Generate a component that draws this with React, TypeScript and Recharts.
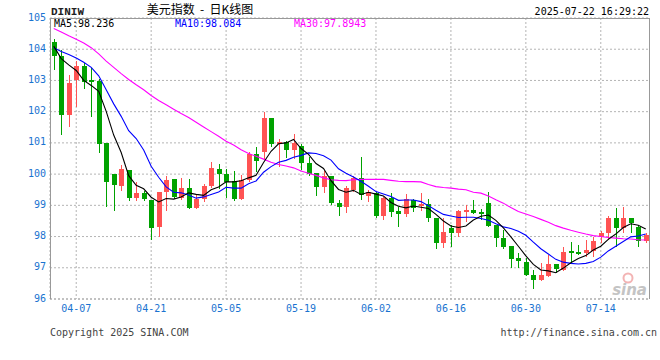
import { Bar, CartesianGrid, ComposedChart, Line, XAxis, YAxis } from 'recharts';

const dates = [
  '04-02', '04-03', '04-04', '04-07', '04-08', '04-09', '04-10', '04-11', '04-14', '04-15',
  '04-16', '04-17', '04-18', '04-21', '04-22', '04-23', '04-24', '04-25', '04-28', '04-29',
  '04-30', '05-01', '05-02', '05-05', '05-06', '05-07', '05-08', '05-09', '05-12', '05-13',
  '05-14', '05-15', '05-16', '05-19', '05-20', '05-21', '05-22', '05-23', '05-26', '05-27',
  '05-28', '05-29', '05-30', '06-02', '06-03', '06-04', '06-05', '06-06', '06-09', '06-10',
  '06-11', '06-12', '06-13', '06-16', '06-17', '06-18', '06-19', '06-20', '06-23', '06-24',
  '06-25', '06-26', '06-27', '06-30', '07-01', '07-02', '07-03', '07-04', '07-07', '07-08',
  '07-09', '07-10', '07-11', '07-14', '07-15', '07-16', '07-17', '07-18', '07-21', '07-22',
];

const opens = [
  104.23, 103.79, 101.9, 103.02, 103.47, 103.0, 102.99, 100.99, 100.01, 99.63,
  100.14, 99.23, 99.4, 99.18, 98.31, 99.42, 99.83, 99.25, 99.57, 98.93,
  99.19, 99.62, 100.15, 100.0, 99.77, 99.21, 99.81, 100.64, 100.72, 101.8,
  100.95, 101.04, 100.77, 100.9, 100.36, 100.04, 99.59, 99.94, 99.06, 98.95,
  99.5, 99.88, 99.31, 99.38, 98.65, 99.24, 98.81, 98.71, 99.17, 98.97,
  99.04, 98.61, 97.8, 98.28, 98.1, 98.79, 98.85, 98.79, 99.08, 98.37,
  97.96, 97.69, 97.32, 97.19, 96.76, 96.6, 96.74, 97.11, 96.92, 97.53,
  97.51, 97.46, 97.53, 97.97, 98.1, 98.6, 98.28, 98.6, 98.31, 97.87,
];
const highs = [
  104.33, 103.99, 103.16, 103.63, 103.55, 103.4, 103.04, 100.99, 100.01, 100.3,
  100.14, 99.74, 99.47, 99.18, 99.44, 99.94, 99.83, 99.87, 99.83, 99.36,
  99.68, 100.38, 100.32, 100.15, 100.1, 99.96, 100.72, 100.86, 101.99, 101.8,
  101.14, 101.07, 101.29, 100.95, 100.56, 100.04, 100.11, 99.94, 99.17, 99.62,
  99.95, 100.56, 99.49, 99.43, 99.26, 99.4, 98.95, 99.36, 99.2, 99.4,
  99.2, 98.61, 98.58, 98.36, 98.85, 99.01, 99.17, 98.87, 99.43, 98.37,
  98.2, 97.69, 97.48, 97.3, 96.92, 97.14, 97.4, 97.11, 97.65, 97.81,
  97.72, 97.9, 97.97, 98.17, 98.65, 98.9, 98.95, 98.6, 98.36, 98.11,
];
const lows = [
  103.34, 101.26, 101.52, 102.14, 102.74, 101.82, 100.67, 98.96, 98.82, 99.47,
  99.15, 99.15, 99.15, 97.89, 97.97, 98.82, 99.19, 99.17, 98.87, 98.89,
  99.12, 99.57, 99.51, 99.25, 99.15, 99.17, 99.75, 100.07, 100.5, 100.88,
  100.24, 100.53, 100.5, 100.13, 99.94, 99.3, 99.38, 99.0, 98.65, 98.76,
  99.44, 99.17, 99.11, 98.58, 98.52, 98.63, 98.31, 98.63, 98.79, 98.81,
  98.47, 97.59, 97.62, 97.65, 97.99, 98.47, 98.72, 98.53, 98.31, 97.67,
  97.6, 96.98, 96.98, 96.73, 96.33, 96.58, 96.71, 96.84, 96.9, 97.14,
  97.4, 97.33, 97.33, 97.8, 97.9, 97.67, 98.12, 98.1, 97.67, 97.8,
];
const closes = [
  103.77, 101.9, 102.92, 103.47, 102.95, 102.94, 100.97, 99.74, 99.66, 100.16,
  99.23, 99.4, 99.2, 98.29, 99.42, 99.81, 99.27, 99.55, 98.93, 99.21,
  99.62, 100.19, 100.0, 99.75, 99.19, 99.81, 100.64, 100.43, 101.8, 100.95,
  101.04, 100.77, 101.0, 100.34, 100.0, 99.6, 99.94, 99.08, 98.95, 99.54,
  99.87, 99.33, 99.43, 98.65, 99.24, 98.79, 98.72, 99.2, 98.93, 99.04,
  98.6, 97.8, 98.15, 98.1, 98.81, 98.85, 98.76, 98.72, 98.33, 97.94,
  97.67, 97.29, 97.23, 96.76, 96.62, 96.76, 97.11, 96.95, 97.51, 97.48,
  97.44, 97.56, 97.85, 98.1, 98.61, 98.28, 98.61, 98.44, 97.86, 98.04,
];

const ma5 = [
  104.1, 103.7, 103.5, 103.32, 103.0, 102.84, 102.65, 102.01, 101.25, 100.69,
  99.95, 99.64, 99.53, 99.26, 99.11, 99.22, 99.2, 99.27, 99.4, 99.35,
  99.32, 99.5, 99.59, 99.75, 99.75, 99.79, 99.88, 99.96, 100.37, 100.73,
  100.97, 101.0, 101.11, 100.82, 100.63, 100.34, 100.18, 99.79, 99.51, 99.42,
  99.48, 99.35, 99.42, 99.36, 99.3, 99.09, 98.97, 98.92, 98.98, 98.94,
  98.9, 98.71, 98.5, 98.34, 98.29, 98.34, 98.53, 98.65, 98.69, 98.52,
  98.28, 97.99, 97.69, 97.38, 97.11, 96.93, 96.9, 96.84, 96.99, 97.16,
  97.3, 97.39, 97.57, 97.69, 97.91, 98.08, 98.29, 98.41, 98.36, 98.24,
];
const ma10 = [
  104.05, 103.93, 103.83, 103.72, 103.58, 103.42, 103.15, 102.7, 102.25, 101.85,
  101.39, 101.14, 100.77, 100.25, 99.9, 99.59, 99.42, 99.4, 99.33, 99.23,
  99.27, 99.35, 99.43, 99.58, 99.55, 99.55, 99.69, 99.78, 100.06, 100.24,
  100.38, 100.44, 100.54, 100.6, 100.68, 100.66, 100.59, 100.45, 100.17, 100.03,
  99.91, 99.77, 99.61, 99.44, 99.36, 99.28, 99.16, 99.17, 99.17, 99.12,
  98.99, 98.84, 98.71, 98.66, 98.61, 98.62, 98.62, 98.58, 98.52, 98.41,
  98.31, 98.26, 98.17, 98.04, 97.82, 97.61, 97.44, 97.27, 97.18, 97.14,
  97.12, 97.14, 97.2, 97.34, 97.54, 97.69, 97.84, 97.99, 98.02, 98.08,
];
const ma30 = [
  104.66, 104.55, 104.43, 104.32, 104.2, 104.05, 103.85, 103.62, 103.42, 103.22,
  103.03, 102.86, 102.7, 102.52, 102.36, 102.22, 102.08, 101.94, 101.81, 101.66,
  101.51, 101.36, 101.21, 101.05, 100.93, 100.78, 100.66, 100.57, 100.48, 100.38,
  100.31, 100.26, 100.2, 100.1, 100.03, 99.96, 99.88, 99.82, 99.8, 99.79,
  99.82, 99.83, 99.83, 99.83, 99.83, 99.8, 99.77, 99.76, 99.76, 99.75,
  99.67, 99.6, 99.57, 99.55, 99.52, 99.5, 99.42, 99.39, 99.3, 99.18,
  99.07, 98.93, 98.8, 98.72, 98.64, 98.55, 98.46, 98.35, 98.27, 98.2,
  98.14, 98.08, 98.03, 98.0, 97.97, 97.95, 97.93, 97.92, 97.9, 97.89,
];

const tickDates = ['04-07', '04-21', '05-05', '05-19', '06-02', '06-16', '06-30', '07-14'];
const yTicks = [96, 97, 98, 99, 100, 101, 102, 103, 104, 105];

const UP = '#ff5353';
const DOWN = '#00a200';
const AXIS_BLUE = '#1a73d0';
const MONO = '"DejaVu Sans Mono", monospace';

const rows = dates.map((date, i) => ({
  date,
  open: opens[i],
  high: highs[i],
  low: lows[i],
  close: closes[i],
  range: [lows[i], highs[i]],
  ma5: ma5[i],
  ma10: ma10[i],
  ma30: ma30[i],
}));

// wick + body, positions come from the bar's own [low, high] geometry
function Candle(props: any) {
  const { x, y, width, height, payload } = props;
  const { open, close, high, low } = payload;
  const perUnit = height / (high - low);
  const yOf = (v: number) => y + (high - v) * perUnit;
  const cx = Math.round(x + width / 2);
  const color = close >= open ? UP : DOWN;
  const top = yOf(Math.max(open, close));
  const bot = yOf(Math.min(open, close));
  return (
    <g shapeRendering="crispEdges">
      <line x1={cx + 0.5} x2={cx + 0.5} y1={y} y2={y + height} stroke={color} />
      <rect x={cx - 2} y={top} width={5} height={Math.max(1, bot - top)} fill={color} />
    </g>
  );
}

export default function App() {
  return (
    <div style={{ position: 'absolute', left: 0, top: 0, width: 660, height: 360, background: '#fff' }}>
      <ComposedChart width={660} height={360} data={rows} margin={{ top: 18, right: 10.5, bottom: 41, left: 0 }}>
        <CartesianGrid stroke="#b4b4b4" strokeDasharray="2 2" />
        <XAxis
          dataKey="date"
          ticks={tickDates}
          interval={0}
          height={20}
          tickLine={false}
          tickSize={4}
          tickMargin={2}
          axisLine={{ stroke: '#aaa', strokeDasharray: '2 2' }}
          tick={{ fill: AXIS_BLUE, fontSize: 10, fontFamily: MONO }}
        />
        <YAxis
          domain={[96, 105]}
          ticks={yTicks}
          interval={0}
          width={50}
          allowDataOverflow
          tickLine={false}
          axisLine={false}
          tickSize={0}
          tickMargin={4}
          tick={{ fill: AXIS_BLUE, fontSize: 10, fontFamily: MONO, dy: -1 }}
        />
        <Bar dataKey="range" shape={<Candle />} isAnimationActive={false} />
        <Line type="linear" dataKey="ma30" stroke="#ff00ff" strokeWidth={1.1} dot={false} activeDot={false} isAnimationActive={false} />
        <Line type="linear" dataKey="ma10" stroke="#0000ff" strokeWidth={1.1} dot={false} activeDot={false} isAnimationActive={false} />
        <Line type="linear" dataKey="ma5" stroke="#000000" strokeWidth={1.1} dot={false} activeDot={false} isAnimationActive={false} />
      </ComposedChart>
      <svg width={660} height={360} style={{ position: 'absolute', left: 0, top: 0, pointerEvents: 'none' }}>
        <path d="M50.5 299 V18.5 H649.5 V299" fill="none" stroke="#999" shapeRendering="crispEdges" />
        <text x={51} y={15} fontFamily='"Liberation Mono", monospace' fontWeight="bold" fontSize={11} fill="#222">DINIW</text>
        <text x={200} y={14} textAnchor="middle" fontFamily='"Noto Sans CJK SC", sans-serif' fontSize={12} fill="#000" style={{ whiteSpace: 'pre' }}>{'美元指数  -  日K线图'}</text>
        <text x={649} y={15} textAnchor="end" fontFamily={MONO} fontSize={10} fill="#000">2025-07-22 16:29:22</text>
        <text x={54} y={27} fontFamily={MONO} fontSize={10} fill="#000">MA5:98.236</text>
        <text x={175} y={27} fontFamily={MONO} fontSize={10} fill="#0000ff">MA10:98.084</text>
        <text x={294} y={27} fontFamily={MONO} fontSize={10} fill="#ff00ff">MA30:97.8943</text>
        <text x={50} y={336} fontFamily={MONO} fontSize={10} fill="#444">Copyright 2025 SINA.COM</text>
        <text x={657} y={336} textAnchor="end" fontFamily={MONO} fontSize={10} fill="#444">http://finance.sina.com.cn</text>
        <circle cx={628} cy={278} r={4.5} fill="none" stroke="#f3b4b4" strokeWidth={2} />
        <text x={647} y={295} textAnchor="end" fontFamily='"DejaVu Sans", sans-serif' fontStyle="italic" fontWeight="bold" fontSize={15} fill="#c4c4c4">sina</text>
      </svg>
    </div>
  );
}
